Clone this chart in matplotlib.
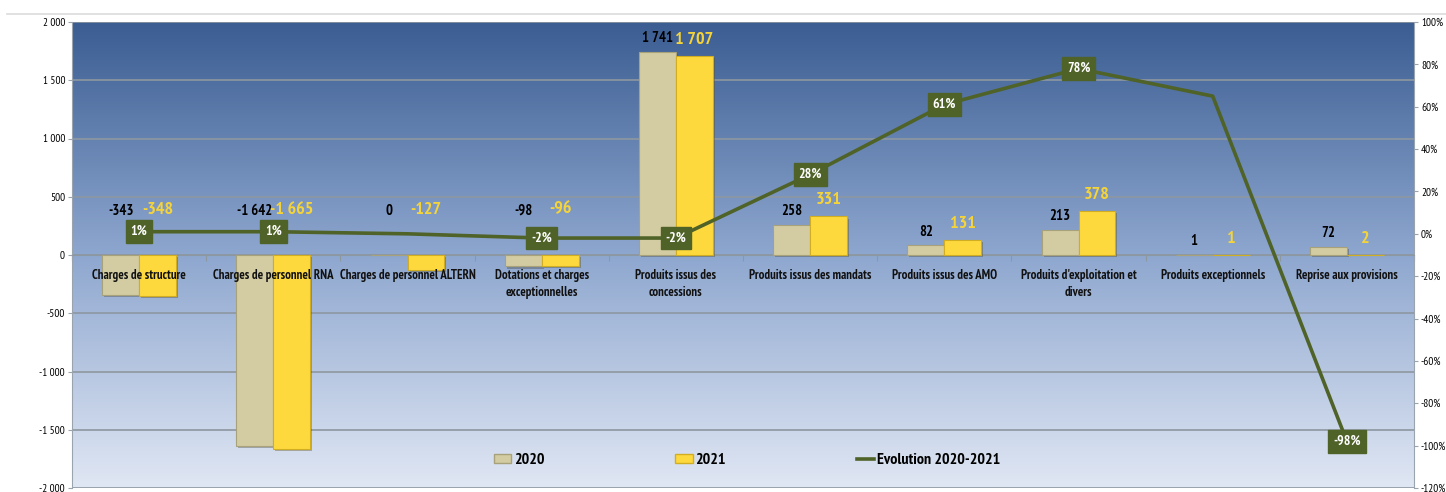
import matplotlib.pyplot as plt
import matplotlib.patheffects as pe
import numpy as np
from matplotlib.lines import Line2D
from matplotlib.patches import Patch
from matplotlib.ticker import FuncFormatter, MultipleLocator
from matplotlib.colors import LinearSegmentedColormap

categories = ["Charges de structure", "Charges de personnel RNA", "Charges de personnel ALTERN",
              "Dotations et charges\nexceptionnelles", "Produits issus des\nconcessions",
              "Produits issus des mandats", "Produits issus des AMO",
              "Produits d'exploitation et\ndivers", "Produits exceptionnels", "Reprise aux provisions"]
v2020 = [-343, -1642, 0, -98, 1741, 258, 82, 213, 1, 72]
v2021 = [-348, -1665, -127, -96, 1707, 331, 131, 378, 1, 2]
evolution = [0.01, 0.01, 0.0, -0.02, -0.02, 0.28, 0.61, 0.78, 0.65, -0.98]
evol_labels = ["1%", "1%", None, "-2%", "-2%", "28%", "61%", "78%", None, "-98%"]

plt.rcParams["font.family"] = ["PT Sans Narrow", "DejaVu Sans"]

c2020 = "#d3cca2"
c2021 = "#fed93e"
cline = "#4f6228"

fig = plt.figure(figsize=(14.46, 4.92), dpi=100)
ax = fig.add_axes([72 / 1446, 4 / 492, 1342 / 1446, 466 / 492])
fig.add_artist(Line2D([0.005, 1], [1 - 14 / 492] * 2, color="#dcdcdc", lw=1.2))

# blue gradient background of the plot area
grad = LinearSegmentedColormap.from_list("bg", ["#3b5d92", "#8ea7cf", "#e0e7f4"])
ax.imshow(np.linspace(0, 1, 256).reshape(-1, 1), cmap=grad, aspect="auto",
          extent=[0, 1, 0, 1], transform=ax.transAxes, zorder=0)

x = np.arange(len(categories))
w = 0.275
shadow = [pe.SimplePatchShadow(offset=(1.5, -1.5), alpha=0.35), pe.Normal()]
b1 = ax.bar(x - w / 2, v2020, w, color=c2020, edgecolor="#a8a27a", lw=0.8, zorder=3)
b2 = ax.bar(x + w / 2, v2021, w, color=c2021, edgecolor="#d1ad22", lw=0.8, zorder=3)
for b in list(b1) + list(b2):
    b.set_path_effects(shadow)

for xi, a, b in zip(x, v2020, v2021):
    for val, dx, col, fs, off, neg_y in [(a, -w / 2, "black", 10.5, 10, 380),
                                         (b, w / 2, "#f5d43a", 13, 11.5, 390)]:
        if val > 0:
            ax.annotate(f"{val:,}".replace(",", " "), (xi + dx, val), xytext=(0, off),
                        textcoords="offset points", ha="center", va="center",
                        fontsize=fs, fontweight="bold", color=col, zorder=5)
        else:
            ax.text(xi + dx, neg_y, f"{val:,}".replace(",", " "), ha="center", va="center",
                    fontsize=fs, fontweight="bold", color=col, zorder=5)

# category names sit just under the zero line, over the bars
for xi, name in zip(x, categories):
    ax.annotate(name, (xi, 0), xytext=(0, -10), textcoords="offset points",
                ha="center", va="top", fontsize=9.2, fontweight="bold",
                linespacing=1.4, color="#111111", zorder=6)

ax.set_xlim(-0.5, len(categories) - 0.5)
ax.set_ylim(-2000, 2000)
ax.yaxis.set_major_locator(MultipleLocator(500))
ax.yaxis.set_major_formatter(FuncFormatter(lambda v, p: f"{v:,.0f}".replace(",", " ")))
ax.yaxis.grid(True, color="#8d97a0", lw=1.2)
ax.set_axisbelow(True)

ax.spines["bottom"].set_position(("data", 0))
ax.spines["bottom"].set_color("#8d97a0")
ax.spines["top"].set_visible(False)
ax.spines["left"].set_color("#9aa4ae")
ax.spines["right"].set_color("#9aa4ae")
ax.set_xticks(np.arange(-0.5, len(categories), 1))
ax.set_xticklabels([])
ax.tick_params(axis="x", length=4, color="#8d97a0")
ax.tick_params(axis="y", labelsize=8, length=3, color="#9aa4ae", pad=2)

ax2 = ax.twinx()
ax2.set_ylim(-1.2, 1.0)
ax2.yaxis.set_major_locator(MultipleLocator(0.2))
ax2.yaxis.set_major_formatter(FuncFormatter(lambda v, p: f"{v * 100:.0f}%"))
ax2.tick_params(axis="y", labelsize=8, length=3, color="#9aa4ae", pad=2)
for s in ax2.spines.values():
    s.set_visible(False)
ax2.plot(x, evolution, color=cline, lw=2.6, zorder=4)
for xi, v, lab in zip(x, evolution, evol_labels):
    if lab:
        ax2.text(xi, v, lab, ha="center", va="center", fontsize=10, fontweight="bold",
                 color="white", zorder=6,
                 bbox=dict(boxstyle="square,pad=0.35", fc=cline, ec=cline))

handles = [Patch(fc=c2020, ec="#a8a27a"), Patch(fc=c2021, ec="#d1ad22"),
           Line2D([], [], color=cline, lw=2.6)]
ax2.legend(handles, ["2020", "2021", "Evolution 2020-2021"], loc="center",
           bbox_to_anchor=(0.503, 0.06), ncol=3, frameon=False, columnspacing=8.2,
           handlelength=1.1, handleheight=0.5, handletextpad=0.15,
           prop={"size": 11.5, "weight": "bold"})

fig.savefig("out.png")
